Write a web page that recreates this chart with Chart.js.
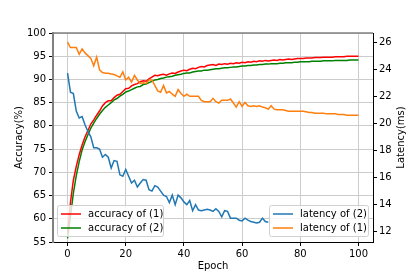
<!DOCTYPE html>
<html>
<head>
<meta charset="utf-8">
<script src="https://cdn.jsdelivr.net/npm/chart.js@4.4.1/dist/chart.umd.min.js"></script>
<style>
  html, body { margin: 0; padding: 0; background: #fff; }
  #wrap { width: 415px; height: 277px; }
</style>
</head>
<body>
<div id="wrap"><canvas id="accChart" width="415" height="277"></canvas></div>
<script>
// epochs 0..100
const epochs = Array.from({ length: 101 }, (_, i) => i);

const accuracy1 = [
  57.0, 63.5, 68.3, 71.3, 73.8, 75.9, 77.6, 79.0, 80.4, 81.3,
  82.3, 83.2, 84.3, 85.0, 85.4, 85.4, 86.1, 86.6, 86.8, 87.4,
  88.0, 88.1, 88.6, 88.9, 89.1, 89.5, 89.7, 89.6, 90.1, 90.5,
  90.9, 90.8, 91.0, 91.1, 90.9, 91.2, 91.4, 91.3, 91.6, 91.8,
  92.0, 91.9, 92.2, 92.4, 92.3, 92.6, 92.8, 92.7, 93.0, 93.1,
  93.2, 93.0, 93.3, 93.2, 93.4, 93.3, 93.5, 93.4, 93.6, 93.5,
  93.7, 93.6, 93.8, 93.7, 93.9, 93.8, 94.0, 93.9, 94.1, 94.0,
  94.1, 94.2, 94.1, 94.3, 94.2, 94.3, 94.4, 94.3, 94.4, 94.5,
  94.5, 94.5, 94.6, 94.6, 94.6, 94.7, 94.7, 94.7, 94.8, 94.8,
  94.8, 94.8, 94.9, 94.9, 94.9, 94.9, 95.0, 95.0, 95.0, 95.0,
  95.0
];

const accuracy2 = [
  55.8, 60.5, 65.5, 69.3, 72.3, 74.8, 76.6, 78.1, 79.5, 80.6,
  81.6, 82.5, 83.3, 84.0, 84.5, 85.0, 85.6, 85.9, 86.4, 86.8,
  87.3, 87.5, 87.8, 88.1, 88.4, 88.5, 88.9, 89.0, 89.3, 89.6,
  89.9, 90.0, 90.2, 90.3, 90.5, 90.6, 90.7, 90.9, 91.0, 91.1,
  91.3, 91.4, 91.4, 91.6, 91.7, 91.8, 91.8, 92.0, 92.0, 92.1,
  92.2, 92.3, 92.3, 92.4, 92.5, 92.5, 92.6, 92.7, 92.7, 92.8,
  92.9, 92.9, 93.0, 93.0, 93.1, 93.1, 93.2, 93.2, 93.3, 93.3,
  93.4, 93.4, 93.4, 93.5, 93.5, 93.6, 93.6, 93.6, 93.7, 93.7,
  93.8, 93.8, 93.8, 93.8, 93.9, 93.9, 93.9, 93.9, 94.0, 94.0,
  94.0, 94.0, 94.1, 94.1, 94.1, 94.1, 94.1, 94.2, 94.2, 94.2,
  94.2
];

// latency of (2): visible up to about epoch 69 (the rest sits behind the legend)
const latency2 = [
  23.7, 22.3, 22.2, 20.9, 20.4, 20.5, 19.9, 19.4, 19.0, 18.2,
  18.2, 18.1, 17.5, 17.7, 17.5, 16.7, 17.25, 17.2, 16.2, 16.1,
  16.6, 16.1, 15.6, 15.8, 15.3, 15.6, 15.85, 15.8, 15.1, 15.0,
  15.4, 15.3, 15.0, 14.7, 14.6, 14.15, 14.7, 14.0, 14.7, 14.5,
  14.2, 14.0, 14.3, 13.55, 14.0, 13.6, 13.55, 13.6, 13.65, 13.6,
  13.5, 13.7, 13.5, 13.1, 13.55, 13.5, 13.0, 13.0, 13.0, 12.85,
  12.8, 13.0, 12.85, 12.75, 12.7, 12.65, 12.7, 13.0, 12.75, 12.7
];

const latency1 = [
  26.0, 25.6, 25.6, 25.6, 25.1, 25.5, 25.2, 25.0, 24.8, 24.25,
  24.9, 23.95, 23.75, 23.7, 23.7, 23.65, 23.6, 23.5, 23.4, 23.8,
  23.2, 23.4, 23.05, 23.55, 23.2, 22.95, 23.0, 22.95, 23.2, 23.2,
  22.8, 22.4, 22.3, 22.8, 22.25, 22.35, 22.15, 22.0, 22.5, 22.2,
  22.0, 22.15, 22.0, 22.0, 22.0, 22.0, 21.7, 21.6, 21.6, 21.6,
  21.85, 21.6, 21.5, 21.7, 21.7, 21.7, 21.8, 21.5, 21.2, 21.6,
  21.25, 21.55, 21.3, 21.25, 21.3, 21.25, 21.3, 21.2, 21.15, 21.05,
  21.3, 21.05, 21.0, 21.0, 21.0, 20.95, 20.9, 20.9, 20.9, 20.9,
  20.9, 20.9, 20.85, 20.8, 20.8, 20.75, 20.75, 20.75, 20.75, 20.7,
  20.7, 20.7, 20.7, 20.65, 20.65, 20.65, 20.6, 20.6, 20.6, 20.6,
  20.6
];

const xTicks = [0, 20, 40, 60, 80, 100];
const accTicks = [55, 60, 65, 70, 75, 80, 85, 90, 95, 100];
const latTicks = [12, 14, 16, 18, 20, 22, 24, 26];

const FONT = "'DejaVu Sans', sans-serif";

function points(values) {
  return values.map((v, i) => ({ x: epochs[i], y: v }));
}

function fixTicks(list) {
  return function (scale) {
    scale.ticks = list.map(v => ({ value: v }));
  };
}

// draws the two legend boxes, the top spine and the axis titles
const extras = {
  id: "extras",
  afterDraw(chart) {
    const ctx = chart.ctx;
    const area = chart.chartArea;
    const ds = chart.data.datasets;

    ctx.save();
    ctx.strokeStyle = "#808080";
    ctx.lineWidth = 1.5;
    ctx.beginPath();
    ctx.moveTo(area.left - 1, area.top);
    ctx.lineTo(area.right, area.top);
    ctx.stroke();

    function legendBox(x, y, w, h, items) {
      ctx.fillStyle = "rgba(255,255,255,0.8)";
      ctx.strokeStyle = "#d0d0d0";
      ctx.lineWidth = 1;
      ctx.beginPath();
      ctx.roundRect(x + 0.5, y + 0.5, w, h, 2);
      ctx.fill();
      ctx.stroke();
      ctx.font = "10px " + FONT;
      ctx.textBaseline = "middle";
      ctx.textAlign = "left";
      items.forEach((d, i) => {
        const cy = y + 9 + i * 14;
        ctx.strokeStyle = d.borderColor;
        ctx.lineWidth = 1.5;
        ctx.beginPath();
        ctx.moveTo(x + 4, cy);
        ctx.lineTo(x + 24, cy);
        ctx.stroke();
        ctx.fillStyle = "#000";
        ctx.fillText(d.label, x + 31, cy);
      });
    }
    legendBox(57, 205, 106, 31, [ds[2], ds[3]]);
    legendBox(269, 205, 99, 31, [ds[0], ds[1]]);

    ctx.fillStyle = "#000";
    ctx.font = "10px " + FONT;
    ctx.textAlign = "center";
    ctx.textBaseline = "middle";
    ctx.fillText("Epoch", (area.left + area.right) / 2, 266);

    const midY = (area.top + area.bottom) / 2;
    ctx.save();
    ctx.translate(19, midY);
    ctx.rotate(-Math.PI / 2);
    ctx.fillText("Accuracy(%)", 0, 0);
    ctx.restore();

    ctx.save();
    ctx.translate(401, midY);
    ctx.rotate(-Math.PI / 2);
    ctx.fillText("Latency(ms)", 0, 0);
    ctx.restore();
    ctx.restore();
  }
};

new Chart("accChart", {
  type: "line",
  data: {
    datasets: [
      {
        label: "latency of (2)",
        data: points(latency2),
        yAxisID: "yLat",
        borderColor: "#1f77b4",
        borderWidth: 1.5,
        pointRadius: 0,
        tension: 0,
        order: 1
      },
      {
        label: "latency of (1)",
        data: points(latency1),
        yAxisID: "yLat",
        borderColor: "#ff7f0e",
        borderWidth: 1.5,
        pointRadius: 0,
        tension: 0,
        order: 2
      },
      {
        label: "accuracy of (1)",
        data: points(accuracy1),
        yAxisID: "yAcc",
        borderColor: "#ff0000",
        borderWidth: 1.5,
        pointRadius: 0,
        tension: 0,
        order: 3
      },
      {
        label: "accuracy of (2)",
        data: points(accuracy2),
        yAxisID: "yAcc",
        borderColor: "#008000",
        borderWidth: 1.5,
        pointRadius: 0,
        tension: 0,
        order: 4
      }
    ]
  },
  options: {
    responsive: false,
    animation: false,
    layout: { padding: { top: 33, left: 0, right: 0, bottom: 0 } },
    plugins: {
      legend: { display: false },
      tooltip: { enabled: false }
    },
    scales: {
      x: {
        type: "linear",
        min: -5,
        max: 105,
        afterBuildTicks: fixTicks(xTicks),
        afterFit(scale) { scale.height = 35; },
        grid: { color: "#cccccc", lineWidth: 1, tickColor: "#000", tickLength: 4 },
        border: { color: "#000", width: 1 },
        ticks: { color: "#000", font: { family: FONT, size: 10 }, padding: 2, maxRotation: 0 }
      },
      yAcc: {
        position: "left",
        min: 55,
        max: 100,
        afterBuildTicks: fixTicks(accTicks),
        afterFit(scale) { scale.width = 53; },
        grid: { color: "#cccccc", lineWidth: 1, tickColor: "#000", tickLength: 4 },
        border: { color: "#808080", width: 2 },
        ticks: { color: "#000", font: { family: FONT, size: 10 }, padding: 3 }
      },
      yLat: {
        position: "right",
        min: 11.24,
        max: 26.67,
        afterBuildTicks: fixTicks(latTicks),
        afterFit(scale) { scale.width = 42; },
        grid: { drawOnChartArea: false, tickColor: "#000", tickLength: 4 },
        border: { color: "#000", width: 1 },
        ticks: { color: "#000", font: { family: FONT, size: 10 }, padding: 2 }
      }
    }
  },
  plugins: [extras]
});
</script>
</body>
</html>
